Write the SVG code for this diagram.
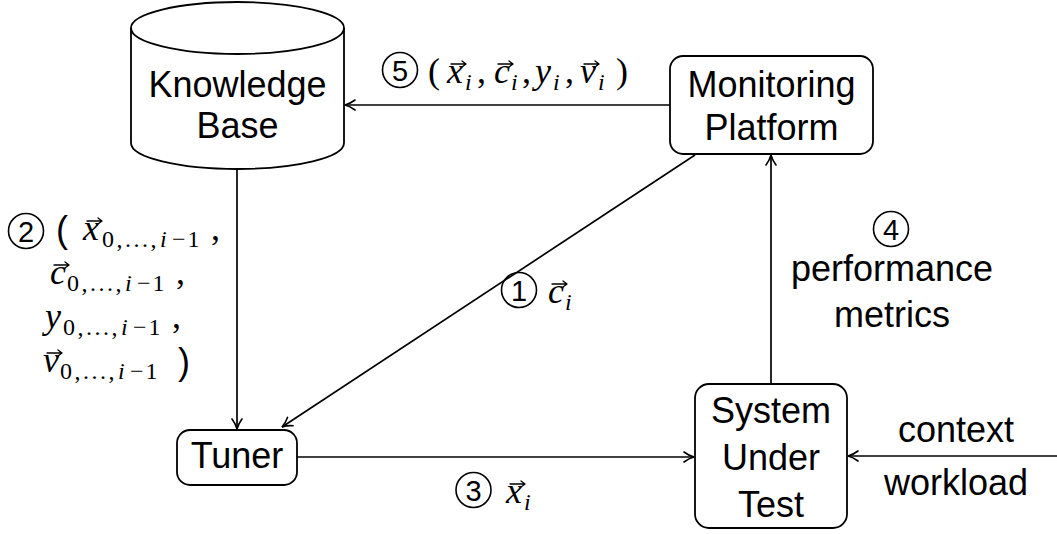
<svg xmlns="http://www.w3.org/2000/svg" width="1057" height="534" viewBox="0 0 1057 534">
<defs>
<marker id="ah" viewBox="-11 -6 13 12" refX="0" refY="0" markerWidth="13" markerHeight="12" markerUnits="userSpaceOnUse" orient="auto">
<path d="M-10,-5 C-6,-2 -2,-0.5 0,0 C-2,0.5 -6,2 -10,5" fill="none" stroke="#000" stroke-width="1.6" stroke-linecap="round"/>
</marker>
</defs>
<style>
.box{fill:#fff;stroke:#000;stroke-width:1.8}
.lbl{font-family:"Liberation Sans",Arial,sans-serif;font-size:36px;fill:#000;text-anchor:middle}
.conn path{fill:none;stroke:#000;stroke-width:1.7;marker-end:url(#ah)}
.cc{fill:none;stroke:#000;stroke-width:1.6}
.dg{font-family:"Liberation Sans",Arial,sans-serif;font-size:29px;fill:#000;text-anchor:middle}
.m{font-family:"Liberation Serif","Times New Roman",serif;font-size:36px;fill:#000}
.it{font-style:italic}
.sb{font-size:24px}
.sp{font-family:"Liberation Sans",Arial,sans-serif;font-size:36px;fill:#000}
.vec{fill:none;stroke:#000;stroke-width:1.3;stroke-linecap:round;stroke-linejoin:round}
</style>

<g id="knowledge-base">
<path class="box" d="M131,28 L131,143 A106.5,26 0 0 0 344,143 L344,28"/>
<ellipse class="box" cx="237.5" cy="28" rx="106.5" ry="26"/>
<text class="lbl" x="237.5" y="97">Knowledge</text>
<text class="lbl" x="237.5" y="138">Base</text>
</g>

<g id="monitoring-platform">
<rect class="box" x="670" y="56" width="203" height="98" rx="13"/>
<text class="lbl" x="771.5" y="97">Monitoring</text>
<text class="lbl" x="771.5" y="140">Platform</text>
</g>

<g id="tuner">
<rect class="box" x="177" y="430" width="120" height="55" rx="13"/>
<text class="lbl" x="237" y="468">Tuner</text>
</g>

<g id="system-under-test">
<rect class="box" x="695" y="384" width="152" height="144" rx="14"/>
<text class="lbl" x="771" y="423">System</text>
<text class="lbl" x="771" y="470">Under</text>
<text class="lbl" x="771" y="517">Test</text>
</g>

<g id="connectors" class="conn">
<path d="M670,105 L345,105"/>
<path d="M237,169 L237,429"/>
<path d="M695,155 L282,427"/>
<path d="M297,457 L694,457"/>
<path d="M771,384 L771,155"/>
<path d="M1057,456 L848,456"/>
</g>

<g id="label-5">
<circle class="cc" cx="400" cy="70" r="17.5"/>
<text class="dg" x="400" y="80.5">5</text>
<text class="m" y="83"><tspan x="428">(</tspan><tspan class="it" x="447">x</tspan><tspan class="it sb" x="465" y="90">i</tspan><tspan x="477" y="83">,</tspan><tspan class="it" x="494">c</tspan><tspan class="it sb" x="511" y="90">i</tspan><tspan x="522" y="83">,</tspan><tspan class="it" x="535">y</tspan><tspan class="it sb" x="553" y="90">i</tspan><tspan x="565" y="83">,</tspan><tspan class="it" x="580">v</tspan><tspan class="it sb" x="598" y="90">i</tspan><tspan x="616" y="83">)</tspan></text>
<path class="vec" d="M451,64 H466 M462,61 L466,64 L462,67 M498,64 H513 M509,61 L513,64 L509,67 M584,64 H599 M595,61 L599,64 L595,67"/>
</g>

<g id="label-1">
<circle class="cc" cx="519" cy="290" r="17.5"/>
<text class="dg" x="519" y="300.5">1</text>
<text class="m" y="303"><tspan class="it" x="548">c</tspan><tspan class="it sb" x="565" y="310">i</tspan></text>
<path class="vec" d="M552,284 H567 M563,281 L567,284 L563,287"/>
</g>

<g id="label-3">
<circle class="cc" cx="473.5" cy="490" r="17.5"/>
<text class="dg" x="473.5" y="500.5">3</text>
<text class="m" y="503"><tspan class="it" x="506">x</tspan><tspan class="it sb" x="524" y="510">i</tspan></text>
<path class="vec" d="M510,484 H525 M521,481 L525,484 L521,487"/>
</g>

<g id="label-4">
<circle class="cc" cx="891" cy="229" r="17.5"/>
<text class="dg" x="891" y="239.5">4</text>
<text class="lbl" x="892" y="281">performance</text>
<text class="lbl" x="892" y="327">metrics</text>
</g>

<g id="label-2">
<circle class="cc" cx="26" cy="231" r="17.5"/>
<text class="dg" x="26" y="241.5">2</text>
<text class="sp" x="56" y="242">(</text>
<text class="m" y="240"><tspan class="it" x="83">x</tspan><tspan class="sb" x="102" y="247" letter-spacing="2.5">0,...,</tspan><tspan class="it sb" x="160">i</tspan><tspan class="sb" x="172" letter-spacing="2">−1</tspan><tspan x="211" y="240">,</tspan></text>
<text class="m" y="284"><tspan class="it" x="50">c</tspan><tspan class="sb" x="67" y="291" letter-spacing="2.5">0,...,</tspan><tspan class="it sb" x="125">i</tspan><tspan class="sb" x="137" letter-spacing="2">−1</tspan><tspan x="176" y="284">,</tspan></text>
<text class="m" y="328"><tspan class="it" x="45">y</tspan><tspan class="sb" x="63" y="335" letter-spacing="2.5">0,...,</tspan><tspan class="it sb" x="121">i</tspan><tspan class="sb" x="133" letter-spacing="2">−1</tspan><tspan x="172" y="328">,</tspan></text>
<text class="m" y="372"><tspan class="it" x="43">v</tspan><tspan class="sb" x="60" y="379" letter-spacing="2.5">0,...,</tspan><tspan class="it sb" x="118">i</tspan><tspan class="sb" x="130" letter-spacing="2">−1</tspan></text>
<text class="sp" x="178" y="374">)</text>
<path class="vec" d="M87,221 H102 M98,218 L102,221 L98,224 M54,265 H69 M65,262 L69,265 L65,268 M47,353 H62 M58,350 L62,353 L58,356"/>
</g>

<g id="input-labels">
<text class="lbl" x="956" y="442">context</text>
<text class="lbl" x="956" y="495">workload</text>
</g>
</svg>
